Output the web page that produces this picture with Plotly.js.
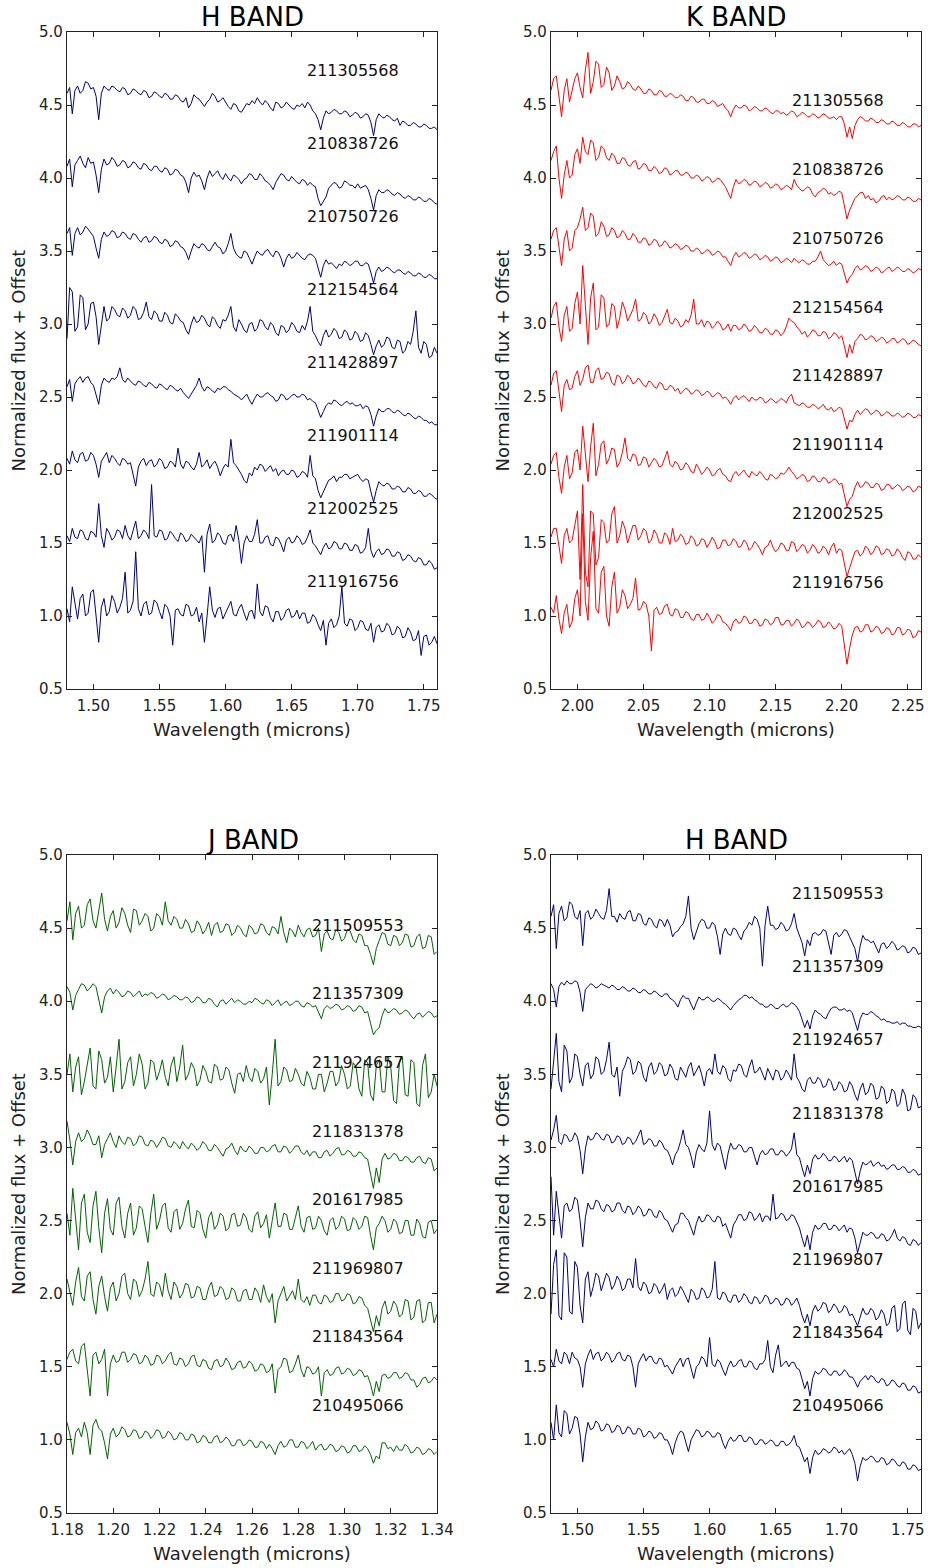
<!DOCTYPE html>
<html><head><meta charset="utf-8">
<script src="https://cdn.plot.ly/plotly-3.0.1.min.js"></script>
<style>html,body{margin:0;padding:0;background:#fff}#chart{width:928px;height:1568px}</style>
</head><body><div id="chart"></div>
<script>
// ---------- wavelength grids (microns) ----------
const hWave = [1.480,1.482,1.484,1.486,1.488,1.490,1.492,1.494,1.496,1.498,
1.500,1.502,1.504,1.506,1.508,1.510,1.512,1.514,1.516,1.518,
1.520,1.522,1.524,1.526,1.528,1.530,1.532,1.534,1.536,1.538,
1.540,1.542,1.544,1.546,1.548,1.550,1.552,1.554,1.556,1.558,
1.560,1.562,1.564,1.566,1.568,1.570,1.572,1.574,1.576,1.578,
1.580,1.582,1.584,1.586,1.588,1.590,1.592,1.594,1.596,1.598,
1.600,1.602,1.604,1.606,1.608,1.610,1.612,1.614,1.616,1.618,
1.620,1.622,1.624,1.626,1.628,1.630,1.632,1.634,1.636,1.638,
1.640,1.642,1.644,1.646,1.648,1.650,1.652,1.654,1.656,1.658,
1.660,1.662,1.664,1.666,1.668,1.670,1.672,1.674,1.676,1.678,
1.680,1.682,1.684,1.686,1.688,1.690,1.692,1.694,1.696,1.698,
1.700,1.702,1.704,1.706,1.708,1.710,1.712,1.714,1.716,1.718,
1.720,1.722,1.724,1.726,1.728,1.730,1.732,1.734,1.736,1.738,
1.740,1.742,1.744,1.746,1.748,1.750,1.752,1.754,1.756,1.758,
1.760];
const kWave = [1.980,1.982,1.984,1.986,1.988,1.990,1.992,1.994,1.996,1.998,
2.000,2.002,2.004,2.006,2.008,2.010,2.012,2.014,2.016,2.018,
2.020,2.022,2.024,2.026,2.028,2.030,2.032,2.034,2.036,2.038,
2.040,2.042,2.044,2.046,2.048,2.050,2.052,2.054,2.056,2.058,
2.060,2.062,2.064,2.066,2.068,2.070,2.072,2.074,2.076,2.078,
2.080,2.082,2.084,2.086,2.088,2.090,2.092,2.094,2.096,2.098,
2.100,2.102,2.104,2.106,2.108,2.110,2.112,2.114,2.116,2.118,
2.120,2.122,2.124,2.126,2.128,2.130,2.132,2.134,2.136,2.138,
2.140,2.142,2.144,2.146,2.148,2.150,2.152,2.154,2.156,2.158,
2.160,2.162,2.164,2.166,2.168,2.170,2.172,2.174,2.176,2.178,
2.180,2.182,2.184,2.186,2.188,2.190,2.192,2.194,2.196,2.198,
2.200,2.202,2.204,2.206,2.208,2.210,2.212,2.214,2.216,2.218,
2.220,2.222,2.224,2.226,2.228,2.230,2.232,2.234,2.236,2.238,
2.240,2.242,2.244,2.246,2.248,2.250,2.252,2.254,2.256,2.258,
2.260];
const jWave = [1.18000,1.18125,1.18250,1.18375,1.18500,1.18625,1.18750,1.18875,1.19000,1.19125,
1.19250,1.19375,1.19500,1.19625,1.19750,1.19875,1.20000,1.20125,1.20250,1.20375,
1.20500,1.20625,1.20750,1.20875,1.21000,1.21125,1.21250,1.21375,1.21500,1.21625,
1.21750,1.21875,1.22000,1.22125,1.22250,1.22375,1.22500,1.22625,1.22750,1.22875,
1.23000,1.23125,1.23250,1.23375,1.23500,1.23625,1.23750,1.23875,1.24000,1.24125,
1.24250,1.24375,1.24500,1.24625,1.24750,1.24875,1.25000,1.25125,1.25250,1.25375,
1.25500,1.25625,1.25750,1.25875,1.26000,1.26125,1.26250,1.26375,1.26500,1.26625,
1.26750,1.26875,1.27000,1.27125,1.27250,1.27375,1.27500,1.27625,1.27750,1.27875,
1.28000,1.28125,1.28250,1.28375,1.28500,1.28625,1.28750,1.28875,1.29000,1.29125,
1.29250,1.29375,1.29500,1.29625,1.29750,1.29875,1.30000,1.30125,1.30250,1.30375,
1.30500,1.30625,1.30750,1.30875,1.31000,1.31125,1.31250,1.31375,1.31500,1.31625,
1.31750,1.31875,1.32000,1.32125,1.32250,1.32375,1.32500,1.32625,1.32750,1.32875,
1.33000,1.33125,1.33250,1.33375,1.33500,1.33625,1.33750,1.33875,1.34000];

// ---------- star ids ----------
const hTopIds = ['211305568','210838726','210750726','212154564','211428897','211901114','212002525','211916756'];
const kTopIds = ['211305568','210838726','210750726','212154564','211428897','211901114','212002525','211916756'];
const jBotIds = ['211509553','211357309','211924657','211831378','201617985','211969807','211843564','210495066'];
const hBotIds = ['211509553','211357309','211924657','211831378','201617985','211969807','211843564','210495066'];

// ---------- top-left H band spectra ----------
const hTop1 = [4.58,4.62,4.44,4.60,4.63,4.58,4.60,4.66,4.65,4.61,
4.62,4.56,4.40,4.58,4.63,4.61,4.60,4.63,4.62,4.60,
4.59,4.62,4.61,4.57,4.58,4.61,4.60,4.58,4.57,4.60,
4.59,4.55,4.56,4.59,4.58,4.56,4.55,4.58,4.57,4.54,
4.54,4.57,4.56,4.53,4.52,4.55,4.48,4.51,4.57,4.55,
4.54,4.51,4.49,4.52,4.54,4.58,4.56,4.52,4.53,4.55,
4.52,4.49,4.47,4.51,4.50,4.46,4.45,4.48,4.51,4.50,
4.53,4.51,4.55,4.52,4.50,4.53,4.51,4.48,4.46,4.52,
4.51,4.48,4.49,4.52,4.50,4.48,4.47,4.50,4.49,4.51,
4.48,4.52,4.50,4.46,4.44,4.40,4.33,4.41,4.46,4.44,
4.45,4.47,4.46,4.44,4.44,4.46,4.45,4.42,4.43,4.45,
4.44,4.41,4.42,4.44,4.43,4.38,4.29,4.40,4.44,4.42,
4.41,4.43,4.42,4.40,4.39,4.41,4.36,4.39,4.38,4.36,
4.36,4.38,4.37,4.35,4.35,4.37,4.36,4.34,4.34,4.35,
4.33];
const hTop2 = [4.08,4.13,3.94,4.09,4.12,4.15,4.10,4.07,4.14,4.10,
4.11,4.02,3.90,4.06,4.13,4.09,4.10,4.14,4.12,4.08,
4.09,4.12,4.11,4.07,4.08,4.11,4.10,4.07,4.06,4.10,
4.09,4.06,4.05,4.08,4.08,4.05,4.04,4.07,4.06,4.02,
4.03,4.06,4.05,4.02,4.01,3.97,3.90,4.00,4.04,4.01,
4.02,3.98,3.92,4.00,4.05,4.01,4.03,4.05,4.01,3.99,
4.03,4.00,3.98,4.02,4.01,3.99,3.96,3.99,4.00,4.03,
4.02,3.99,3.99,4.03,4.01,3.98,3.97,3.95,3.92,3.97,
4.00,4.03,4.02,3.99,3.98,4.01,3.99,3.97,3.96,3.99,
3.98,3.95,3.97,3.95,3.94,3.86,3.81,3.84,3.87,3.93,
3.95,3.97,3.96,3.93,3.94,3.98,3.97,3.95,3.95,3.93,
3.96,3.93,3.94,3.95,3.92,3.86,3.78,3.88,3.92,3.90,
3.90,3.92,3.91,3.89,3.88,3.90,3.89,3.87,3.86,3.88,
3.87,3.85,3.85,3.87,3.86,3.84,3.84,3.86,3.85,3.83,
3.82];
const hTop3 = [3.62,3.66,3.47,3.62,3.66,3.61,3.63,3.67,3.65,3.62,
3.60,3.52,3.45,3.58,3.63,3.60,3.61,3.64,3.63,3.59,
3.60,3.63,3.62,3.59,3.58,3.62,3.61,3.58,3.56,3.59,
3.60,3.56,3.57,3.60,3.59,3.56,3.55,3.58,3.57,3.53,
3.54,3.57,3.56,3.53,3.52,3.49,3.44,3.50,3.55,3.53,
3.52,3.55,3.54,3.51,3.50,3.53,3.56,3.53,3.52,3.48,
3.50,3.55,3.62,3.52,3.48,3.46,3.45,3.50,3.49,3.45,
3.41,3.46,3.50,3.48,3.47,3.50,3.51,3.48,3.46,3.50,
3.49,3.45,3.39,3.45,3.48,3.45,3.46,3.49,3.47,3.45,
3.44,3.47,3.48,3.47,3.45,3.38,3.32,3.40,3.44,3.41,
3.42,3.40,3.38,3.41,3.40,3.43,3.42,3.40,3.41,3.43,
3.43,3.40,3.40,3.42,3.41,3.35,3.28,3.36,3.39,3.36,
3.37,3.39,3.38,3.36,3.35,3.37,3.37,3.35,3.34,3.36,
3.35,3.33,3.33,3.35,3.34,3.32,3.32,3.34,3.33,3.31,
3.31];
const hTop4 = [2.90,3.25,3.22,2.95,2.98,3.20,3.18,2.96,3.00,3.14,
3.15,3.05,2.86,3.00,3.12,3.02,3.04,3.12,3.10,3.06,
3.05,3.11,3.09,3.04,3.06,3.12,3.10,3.03,3.04,3.08,
3.15,3.05,3.03,3.09,3.07,3.02,3.02,3.08,3.06,3.01,
3.00,3.07,3.05,3.02,3.01,2.96,2.93,3.00,3.05,3.01,
3.02,3.06,3.04,3.00,2.98,3.05,3.03,2.99,2.97,3.03,
3.02,3.06,3.12,2.98,2.95,3.03,3.00,2.96,2.94,3.00,
3.01,2.95,2.97,3.03,3.02,2.98,2.96,3.01,2.99,2.94,
2.92,2.99,2.98,2.94,2.96,3.01,2.99,2.95,2.94,2.99,
2.96,3.02,3.12,2.95,2.92,2.88,2.85,2.92,2.96,2.91,
2.93,2.97,2.95,2.90,2.91,2.96,2.94,2.89,2.90,2.95,
2.93,2.88,2.89,2.94,2.92,2.86,2.79,2.85,2.89,2.84,
2.86,2.91,2.90,2.84,2.83,2.89,2.88,2.80,2.82,2.88,
2.86,2.95,3.09,2.84,2.80,2.88,2.86,2.77,2.78,2.84,
2.80];
const hTop5 = [2.57,2.62,2.47,2.59,2.62,2.64,2.60,2.63,2.64,2.60,
2.58,2.52,2.45,2.58,2.63,2.61,2.60,2.63,2.62,2.64,
2.70,2.62,2.60,2.63,2.61,2.59,2.58,2.61,2.60,2.58,
2.57,2.60,2.59,2.57,2.56,2.59,2.58,2.56,2.55,2.58,
2.57,2.55,2.54,2.56,2.53,2.51,2.49,2.52,2.55,2.58,
2.63,2.57,2.54,2.57,2.56,2.54,2.53,2.56,2.55,2.57,
2.57,2.55,2.54,2.52,2.51,2.50,2.48,2.50,2.52,2.48,
2.45,2.49,2.52,2.50,2.50,2.52,2.53,2.51,2.50,2.47,
2.48,2.52,2.51,2.48,2.49,2.51,2.52,2.50,2.50,2.52,
2.51,2.48,2.49,2.47,2.46,2.41,2.36,2.40,2.44,2.46,
2.45,2.48,2.47,2.45,2.44,2.46,2.47,2.45,2.46,2.44,
2.44,2.45,2.42,2.44,2.43,2.38,2.30,2.37,2.42,2.40,
2.40,2.42,2.42,2.40,2.39,2.41,2.40,2.38,2.37,2.39,
2.38,2.36,2.35,2.37,2.36,2.34,2.34,2.32,2.33,2.31,
2.31];
const hTop6 = [2.08,2.04,2.13,2.07,2.05,2.11,2.12,2.06,2.07,2.12,
2.10,2.04,1.95,2.06,2.09,2.12,2.05,2.10,2.08,2.05,
2.03,2.08,2.07,2.04,2.05,1.98,1.89,2.02,2.06,2.08,
2.03,2.06,2.07,2.02,2.04,2.08,2.06,2.01,2.02,2.06,
2.05,2.02,2.15,2.04,2.01,2.06,2.05,2.02,2.00,2.04,
2.12,2.02,2.04,2.07,2.01,2.04,2.06,2.02,1.96,2.01,
2.04,2.02,2.21,2.05,2.03,2.00,1.97,1.93,1.91,1.98,
1.96,2.02,2.00,2.04,2.03,1.99,2.01,2.03,1.99,2.01,
1.96,1.99,2.00,1.97,1.97,2.00,1.99,1.95,1.96,1.99,
1.98,1.95,2.10,1.96,1.94,1.86,1.81,1.85,1.88,1.93,
1.94,1.96,1.92,1.95,1.95,1.97,1.97,1.94,1.95,1.96,
1.97,1.94,1.92,1.94,1.93,1.85,1.78,1.86,1.92,1.90,
1.89,1.91,1.90,1.87,1.87,1.89,1.88,1.85,1.85,1.88,
1.87,1.84,1.84,1.86,1.85,1.82,1.82,1.84,1.83,1.81,
1.80];
const hTop7 = [1.55,1.51,1.60,1.54,1.53,1.59,1.58,1.53,1.52,1.58,
1.57,1.54,1.77,1.55,1.47,1.60,1.57,1.52,1.54,1.59,
1.58,1.53,1.62,1.55,1.52,1.58,1.65,1.53,1.55,1.59,
1.57,1.53,1.90,1.55,1.54,1.59,1.58,1.52,1.53,1.58,
1.56,1.53,1.51,1.57,1.55,1.51,1.52,1.56,1.54,1.52,
1.50,1.55,1.30,1.56,1.63,1.50,1.52,1.57,1.55,1.50,
1.49,1.55,1.56,1.51,1.62,1.52,1.36,1.50,1.55,1.51,
1.51,1.56,1.66,1.50,1.50,1.54,1.55,1.49,1.48,1.54,
1.53,1.49,1.44,1.52,1.54,1.50,1.51,1.55,1.53,1.49,
1.50,1.54,1.59,1.50,1.48,1.45,1.42,1.47,1.50,1.46,
1.47,1.51,1.50,1.46,1.46,1.50,1.49,1.45,1.45,1.49,
1.48,1.43,1.44,1.47,1.60,1.45,1.40,1.44,1.46,1.42,
1.43,1.46,1.45,1.41,1.41,1.44,1.43,1.38,1.39,1.42,
1.41,1.38,1.37,1.40,1.39,1.35,1.35,1.38,1.36,1.32,
1.33];
const hTop8 = [1.05,0.96,1.20,1.08,0.98,1.12,1.15,1.00,1.02,1.16,
1.18,1.00,0.82,1.06,1.12,1.00,1.03,1.14,1.10,1.02,
1.06,1.12,1.30,1.02,1.04,1.10,1.44,1.05,1.00,1.08,
1.10,1.01,1.02,1.11,1.09,1.03,0.98,1.08,1.06,1.00,
0.80,1.04,1.05,1.01,1.00,1.08,1.07,1.00,1.01,1.06,
0.96,1.02,0.82,1.00,1.20,1.04,0.99,1.05,1.06,0.98,
1.02,1.07,1.10,1.01,1.00,1.05,1.08,1.02,0.97,1.03,
1.04,0.98,1.22,1.03,1.00,1.07,1.06,0.99,0.96,1.03,
1.03,0.97,0.99,1.04,1.05,0.99,1.00,1.04,0.98,1.02,
1.02,0.95,0.96,1.01,0.99,0.94,0.90,0.97,0.80,0.95,
0.98,0.92,0.94,1.00,1.20,0.95,0.93,0.98,0.97,0.90,
0.92,0.97,0.96,0.91,0.90,0.95,0.82,0.92,0.94,0.89,
0.90,0.95,0.93,0.87,0.88,0.93,0.91,0.85,0.86,0.92,
0.89,0.83,0.84,0.90,0.73,0.86,0.87,0.80,0.82,0.86,
0.81];

// ---------- top-right K band spectra ----------
const kTop1 = [4.60,4.68,4.70,4.55,4.42,4.60,4.68,4.52,4.60,4.68,
4.72,4.62,4.55,4.74,4.86,4.58,4.66,4.80,4.78,4.62,
4.64,4.76,4.72,4.60,4.63,4.70,4.66,4.61,4.62,4.66,
4.64,4.61,4.60,4.63,4.61,4.58,4.58,4.61,4.60,4.57,
4.57,4.60,4.59,4.56,4.56,4.58,4.57,4.55,4.55,4.57,
4.56,4.53,4.53,4.56,4.55,4.52,4.52,4.54,4.54,4.51,
4.51,4.53,4.52,4.49,4.50,4.51,4.48,4.46,4.42,4.47,
4.50,4.48,4.48,4.50,4.49,4.46,4.47,4.49,4.48,4.46,
4.46,4.48,4.47,4.45,4.44,4.46,4.46,4.44,4.45,4.43,
4.44,4.46,4.45,4.42,4.43,4.45,4.44,4.42,4.42,4.44,
4.43,4.41,4.42,4.44,4.43,4.41,4.41,4.42,4.40,4.42,
4.42,4.37,4.28,4.35,4.27,4.36,4.40,4.42,4.41,4.39,
4.39,4.41,4.40,4.38,4.38,4.40,4.39,4.37,4.37,4.39,
4.38,4.36,4.36,4.38,4.37,4.35,4.35,4.37,4.37,4.35,
4.36];
const kTop2 = [4.12,4.18,4.22,4.00,3.86,4.02,4.12,4.00,4.02,4.16,
4.20,4.10,4.28,4.18,4.16,4.26,4.24,4.12,4.14,4.22,
4.20,4.14,4.12,4.17,4.15,4.10,4.10,4.14,4.13,4.09,
4.08,4.11,4.12,4.06,4.07,4.10,4.09,4.05,4.05,4.08,
4.06,4.03,4.04,4.07,4.06,4.02,4.03,4.05,4.05,4.02,
4.02,4.04,4.03,4.00,4.00,4.02,4.01,3.98,3.99,4.01,
4.00,3.97,3.98,4.00,3.99,3.96,3.94,3.90,3.86,3.94,
3.99,3.96,3.97,3.99,3.98,3.95,3.96,3.98,3.97,3.94,
3.95,3.97,3.96,3.93,3.94,3.96,3.95,3.92,3.93,3.95,
3.94,3.92,3.99,3.95,3.93,3.91,3.92,3.94,3.93,3.89,
3.87,3.90,3.91,3.93,3.92,3.89,3.90,3.88,3.89,3.91,
3.90,3.82,3.72,3.78,3.82,3.86,3.88,3.90,3.90,3.86,
3.88,3.85,3.86,3.83,3.84,3.87,3.88,3.85,3.87,3.85,
3.86,3.88,3.87,3.85,3.85,3.87,3.86,3.84,3.84,3.86,
3.85];
const kTop3 = [3.58,3.64,3.66,3.52,3.40,3.58,3.64,3.50,3.52,3.64,
3.66,3.72,3.80,3.64,3.66,3.76,3.74,3.60,3.62,3.70,
3.67,3.60,3.61,3.66,3.64,3.59,3.60,3.64,3.62,3.58,
3.58,3.62,3.60,3.56,3.56,3.59,3.58,3.54,3.55,3.58,
3.57,3.53,3.54,3.57,3.55,3.52,3.53,3.55,3.54,3.51,
3.52,3.54,3.53,3.50,3.50,3.52,3.51,3.48,3.49,3.51,
3.50,3.47,3.48,3.50,3.49,3.46,3.46,3.43,3.40,3.46,
3.49,3.46,3.47,3.49,3.48,3.45,3.46,3.48,3.47,3.44,
3.45,3.47,3.46,3.43,3.44,3.46,3.45,3.42,3.43,3.45,
3.44,3.42,3.45,3.43,3.42,3.44,3.43,3.41,3.41,3.43,
3.43,3.46,3.50,3.44,3.42,3.40,3.41,3.43,3.40,3.42,
3.41,3.34,3.28,3.32,3.34,3.38,3.40,3.37,3.38,3.40,
3.39,3.36,3.37,3.39,3.38,3.35,3.36,3.38,3.39,3.36,
3.37,3.39,3.38,3.36,3.36,3.38,3.37,3.35,3.36,3.38,
3.37];
const kTop4 = [3.04,3.12,3.15,2.98,2.88,3.06,3.12,2.95,2.97,3.14,
3.22,3.00,3.40,3.10,2.86,3.18,3.28,2.96,2.98,3.20,
3.18,2.98,3.00,3.14,3.12,2.97,3.04,3.15,3.10,3.02,
3.06,3.10,3.17,3.02,3.03,3.08,3.06,3.00,3.02,3.07,
3.04,2.99,3.01,3.06,3.10,3.01,3.00,3.04,3.02,2.98,
2.99,3.03,3.01,3.06,3.17,3.00,3.00,3.03,2.98,3.02,
3.01,2.97,2.99,3.02,3.00,2.96,2.97,3.00,2.95,2.99,
2.99,2.96,2.97,3.00,2.98,2.95,2.96,2.99,2.97,2.94,
2.94,2.97,2.96,2.93,2.93,2.96,2.95,2.92,2.94,2.98,
3.04,3.02,3.01,2.98,2.96,2.93,2.95,2.91,2.93,2.96,
2.95,2.92,2.92,2.95,2.94,2.90,2.91,2.94,2.93,2.90,
2.92,2.85,2.77,2.86,2.80,2.88,2.90,2.93,2.92,2.89,
2.90,2.92,2.91,2.88,2.89,2.91,2.90,2.87,2.88,2.90,
2.90,2.87,2.88,2.90,2.89,2.86,2.87,2.89,2.88,2.86,
2.85];
const kTop5 = [2.58,2.66,2.68,2.52,2.40,2.58,2.62,2.55,2.56,2.64,
2.68,2.58,2.62,2.70,2.72,2.60,2.60,2.68,2.70,2.62,
2.63,2.67,2.66,2.60,2.58,2.65,2.64,2.59,2.61,2.65,
2.63,2.59,2.60,2.63,2.61,2.58,2.57,2.61,2.60,2.57,
2.56,2.60,2.59,2.55,2.55,2.58,2.57,2.54,2.56,2.52,
2.54,2.56,2.55,2.52,2.53,2.55,2.54,2.51,2.52,2.54,
2.53,2.50,2.51,2.53,2.52,2.49,2.50,2.48,2.45,2.49,
2.51,2.48,2.50,2.51,2.49,2.47,2.50,2.48,2.48,2.50,
2.49,2.46,2.47,2.49,2.48,2.46,2.47,2.49,2.48,2.46,
2.50,2.52,2.46,2.45,2.44,2.46,2.45,2.43,2.43,2.45,
2.44,2.42,2.43,2.45,2.42,2.41,2.43,2.40,2.41,2.43,
2.42,2.35,2.28,2.34,2.33,2.38,2.41,2.38,2.40,2.42,
2.41,2.38,2.39,2.41,2.40,2.37,2.38,2.40,2.39,2.37,
2.37,2.39,2.38,2.36,2.37,2.39,2.38,2.36,2.36,2.38,
2.37];
const kTop6 = [2.04,2.10,2.12,1.95,1.84,2.02,2.10,1.94,1.98,2.12,
2.14,2.00,2.30,2.08,1.92,2.16,2.32,1.96,2.04,2.18,
2.20,2.04,2.08,2.15,2.14,2.02,2.05,2.12,2.22,2.08,
2.06,2.11,2.10,2.03,2.04,2.09,2.08,2.02,2.05,2.08,
2.06,2.02,2.03,2.08,2.13,2.04,2.02,2.06,2.04,2.00,
2.01,2.05,2.03,1.99,1.98,2.04,2.01,1.97,1.99,2.02,
2.00,1.96,1.97,2.00,2.01,1.97,1.96,1.93,1.92,1.97,
1.99,1.96,1.98,2.00,1.97,1.95,1.99,1.97,1.96,1.99,
1.97,1.94,1.93,1.97,1.96,1.94,1.95,1.98,1.97,1.99,
2.02,1.99,1.97,1.94,1.95,1.97,1.96,1.92,1.93,1.96,
1.95,1.92,1.92,1.95,1.94,1.91,1.92,1.94,1.93,1.90,
1.91,1.83,1.75,1.80,1.82,1.88,1.92,1.88,1.89,1.92,
1.91,1.88,1.88,1.91,1.90,1.86,1.87,1.90,1.90,1.87,
1.88,1.90,1.89,1.86,1.87,1.89,1.88,1.85,1.86,1.89,
1.88];
const kTop7 = [1.54,1.60,1.60,1.48,1.36,1.55,1.60,1.50,1.52,1.62,
1.72,1.25,1.90,1.30,1.20,1.72,1.70,1.35,1.40,1.66,
1.64,1.50,1.52,1.70,1.75,1.50,1.55,1.65,1.60,1.50,
1.56,1.62,1.62,1.52,1.55,1.60,1.58,1.50,1.52,1.59,
1.56,1.50,1.50,1.57,1.55,1.49,1.60,1.51,1.52,1.56,
1.54,1.49,1.50,1.55,1.53,1.48,1.49,1.53,1.52,1.47,
1.50,1.54,1.51,1.46,1.47,1.52,1.52,1.48,1.49,1.53,
1.51,1.47,1.48,1.52,1.50,1.45,1.47,1.51,1.49,1.46,
1.42,1.47,1.48,1.52,1.47,1.44,1.46,1.50,1.49,1.45,
1.45,1.51,1.50,1.44,1.46,1.49,1.48,1.43,1.45,1.49,
1.47,1.43,1.44,1.48,1.46,1.42,1.47,1.50,1.43,1.46,
1.45,1.35,1.27,1.33,1.38,1.44,1.45,1.41,1.43,1.48,
1.46,1.42,1.44,1.48,1.47,1.42,1.43,1.46,1.45,1.41,
1.42,1.46,1.44,1.40,1.38,1.44,1.43,1.39,1.39,1.42,
1.40];
const kTop8 = [1.06,1.02,1.14,0.98,0.88,1.02,1.08,0.92,0.96,1.12,
1.18,1.00,1.70,1.10,0.97,1.40,1.58,1.05,1.02,1.30,
1.34,1.00,0.93,1.20,1.30,1.02,1.06,1.18,1.14,1.05,
1.08,1.12,1.26,1.04,1.05,1.10,1.08,1.00,0.76,1.04,
1.06,1.01,1.02,1.07,1.08,1.01,1.00,1.05,1.04,0.99,
0.99,1.03,1.02,0.98,0.97,1.01,1.01,0.97,0.98,1.02,
0.99,0.95,0.97,1.01,1.00,0.96,0.95,0.93,0.90,0.96,
0.98,0.95,0.96,1.00,0.99,0.95,0.95,0.98,0.97,0.93,
0.94,0.98,0.97,0.94,0.95,0.99,0.99,0.94,0.94,0.97,
0.97,0.93,0.95,0.98,0.96,0.92,0.93,0.96,0.95,0.92,
0.94,0.97,0.96,0.92,0.93,0.96,0.94,0.91,0.92,0.95,
0.93,0.80,0.67,0.78,0.87,0.92,0.93,0.89,0.90,0.94,
0.94,0.89,0.90,0.93,0.92,0.88,0.89,0.92,0.91,0.87,
0.88,0.92,0.92,0.87,0.88,0.91,0.90,0.85,0.86,0.90,
0.89];

// ---------- bottom-left J band spectra ----------
const jBot1 = [4.55,4.68,4.42,4.60,4.65,4.50,4.52,4.66,4.70,4.55,
4.50,4.62,4.74,4.56,4.48,4.58,4.62,4.50,4.54,4.64,
4.60,4.52,4.47,4.63,4.62,4.52,4.55,4.60,4.58,4.48,
4.50,4.60,4.58,4.52,4.68,4.55,4.52,4.58,4.56,4.50,
4.50,4.56,4.53,4.47,4.48,4.55,4.52,4.46,4.49,4.54,
4.45,4.52,4.54,4.47,4.48,4.53,4.52,4.45,4.47,4.52,
4.50,4.46,4.44,4.52,4.50,4.46,4.47,4.53,4.52,4.47,
4.45,4.51,4.50,4.46,4.58,4.47,4.40,4.50,4.48,4.44,
4.52,4.47,4.44,4.49,4.50,4.44,4.45,4.50,4.34,4.46,
4.48,4.43,4.42,4.49,4.47,4.41,4.43,4.49,4.48,4.42,
4.40,4.46,4.45,4.38,4.38,4.32,4.25,4.36,4.42,4.47,
4.46,4.39,4.38,4.45,4.44,4.38,4.40,4.46,4.45,4.37,
4.38,4.44,4.46,4.36,4.37,4.45,4.44,4.32,4.34];
const jBot2 = [4.10,4.06,3.94,4.04,4.08,4.12,4.11,4.07,4.09,4.12,
4.10,4.02,3.92,4.03,4.07,4.09,4.05,4.08,4.06,4.03,
4.04,4.07,4.06,4.03,4.05,4.07,4.03,4.05,4.04,4.06,
4.05,4.02,4.03,4.05,4.04,4.01,4.02,4.04,4.03,4.01,
4.01,4.03,4.02,3.99,4.00,4.03,4.02,3.99,3.99,4.02,
4.01,3.98,3.96,4.00,4.01,3.98,4.00,4.02,3.99,4.01,
4.00,3.98,3.98,4.00,3.99,4.02,4.01,3.99,3.98,4.01,
4.00,3.97,3.99,4.01,3.97,3.99,4.00,3.97,3.98,4.00,
4.00,3.97,3.96,3.99,3.98,3.96,3.97,3.93,3.88,3.95,
3.97,3.95,3.96,3.98,3.97,3.94,3.95,3.97,3.96,3.93,
3.94,3.97,3.96,3.92,3.93,3.85,3.77,3.80,3.82,3.90,
3.95,3.92,3.93,3.95,3.94,3.91,3.92,3.94,3.93,3.90,
3.88,3.91,3.92,3.89,3.91,3.93,3.92,3.89,3.90];
const jBot3 = [3.50,3.64,3.38,3.55,3.62,3.36,3.45,3.58,3.68,3.42,
3.40,3.66,3.60,3.44,3.48,3.62,3.38,3.55,3.74,3.40,
3.45,3.58,3.62,3.42,3.50,3.64,3.57,3.40,3.44,3.60,
3.58,3.46,3.52,3.60,3.48,3.42,3.56,3.62,3.45,3.55,
3.70,3.46,3.50,3.58,3.54,3.42,3.46,3.56,3.52,3.45,
3.44,3.57,3.55,3.46,3.47,3.55,3.53,3.44,3.37,3.50,
3.51,3.45,3.56,3.48,3.45,3.54,3.52,3.44,3.47,3.55,
3.29,3.50,3.74,3.42,3.45,3.55,3.53,3.45,3.46,3.54,
3.50,3.44,3.42,3.52,3.48,3.40,3.40,3.50,3.50,3.38,
3.44,3.52,3.52,3.42,3.45,3.56,3.50,3.40,3.42,3.58,
3.55,3.40,3.35,3.60,3.58,3.36,3.32,3.56,3.60,3.38,
3.38,3.62,3.55,3.32,3.30,3.58,3.62,3.36,3.35,3.60,
3.58,3.30,3.28,3.56,3.64,3.34,3.38,3.50,3.42];
const jBot4 = [3.18,3.05,2.88,3.04,3.10,3.04,3.06,3.12,3.08,3.02,
3.02,3.08,2.93,3.02,3.06,3.10,3.04,3.00,3.08,3.04,
3.02,3.07,3.06,3.01,3.03,3.08,3.07,3.02,3.01,3.05,
3.04,3.00,3.03,3.07,3.06,3.01,3.00,3.04,3.02,2.99,
3.04,3.01,2.99,3.03,3.01,2.98,3.00,3.04,3.02,2.98,
2.98,3.02,3.00,2.97,2.94,2.99,3.00,3.03,2.98,2.95,
3.01,2.98,2.97,3.01,2.99,2.96,2.96,3.00,3.00,2.97,
2.98,3.01,3.02,2.97,2.97,3.01,3.00,2.96,2.98,3.01,
3.01,2.97,2.95,2.98,2.94,2.97,2.97,2.93,2.93,2.97,
2.98,2.94,2.96,2.99,3.00,2.95,2.95,2.98,2.97,2.94,
2.94,2.97,2.96,2.93,2.92,2.82,2.72,2.86,2.76,2.92,
2.96,2.92,2.93,2.96,2.95,2.91,2.91,2.94,2.93,2.90,
2.90,2.93,2.94,2.90,2.89,2.93,2.92,2.84,2.86];
const jBot5 = [2.55,2.40,2.72,2.50,2.30,2.62,2.68,2.42,2.35,2.60,
2.70,2.45,2.28,2.55,2.65,2.44,2.40,2.62,2.66,2.46,
2.38,2.55,2.62,2.40,2.45,2.60,2.58,2.46,2.35,2.55,
2.68,2.44,2.50,2.60,2.62,2.45,2.42,2.56,2.58,2.44,
2.48,2.58,2.64,2.46,2.45,2.57,2.55,2.44,2.38,2.52,
2.56,2.44,2.47,2.55,2.53,2.43,2.45,2.54,2.55,2.46,
2.47,2.55,2.52,2.44,2.42,2.53,2.56,2.45,2.48,2.54,
2.38,2.50,2.62,2.46,2.46,2.55,2.54,2.44,2.44,2.52,
2.60,2.46,2.42,2.52,2.53,2.44,2.45,2.53,2.50,2.43,
2.40,2.50,2.52,2.44,2.46,2.53,2.51,2.43,2.44,2.52,
2.50,2.44,2.46,2.53,2.52,2.40,2.30,2.45,2.48,2.53,
2.50,2.42,2.44,2.51,2.49,2.41,2.42,2.50,2.50,2.40,
2.40,2.51,2.48,2.39,2.38,2.49,2.50,2.41,2.44];
const jBot6 = [2.10,2.02,1.92,2.08,2.18,1.98,1.95,2.12,2.15,1.96,
1.86,2.05,2.12,1.98,1.88,2.04,2.08,1.95,2.00,2.12,
2.14,2.00,1.96,2.10,2.08,1.98,2.02,2.10,2.22,2.00,
1.98,2.08,2.06,1.98,2.14,2.02,1.96,2.08,2.05,1.97,
2.00,2.07,2.06,1.97,1.98,2.05,2.04,1.96,1.96,2.04,
2.08,1.98,1.99,2.05,2.03,1.96,1.97,2.04,2.02,1.95,
1.95,2.02,2.03,1.96,1.96,2.04,2.01,1.94,2.06,1.98,
1.94,2.00,1.80,1.95,2.00,2.05,1.95,1.99,2.02,1.96,
2.10,1.96,1.94,1.98,1.92,1.99,1.99,1.94,1.93,1.99,
1.98,1.94,1.95,2.00,2.00,1.95,1.96,2.00,1.99,1.93,
1.94,1.98,1.97,1.92,1.90,1.82,1.74,1.85,1.78,1.90,
1.95,1.86,1.88,1.95,1.92,1.84,1.86,1.96,1.95,1.82,
1.84,1.95,1.96,1.80,1.82,1.94,1.94,1.80,1.86];
const jBot7 = [1.55,1.60,1.62,1.54,1.52,1.64,1.66,1.50,1.30,1.58,
1.60,1.52,1.55,1.62,1.30,1.52,1.58,1.53,1.54,1.60,
1.60,1.53,1.55,1.59,1.58,1.52,1.53,1.58,1.56,1.51,
1.52,1.58,1.57,1.52,1.54,1.58,1.60,1.52,1.51,1.56,
1.55,1.50,1.52,1.57,1.58,1.51,1.50,1.55,1.54,1.49,
1.48,1.54,1.55,1.50,1.51,1.56,1.53,1.48,1.49,1.53,
1.54,1.49,1.50,1.54,1.52,1.47,1.48,1.52,1.51,1.46,
1.47,1.52,1.32,1.48,1.50,1.56,1.55,1.46,1.47,1.52,
1.58,1.48,1.43,1.50,1.49,1.45,1.46,1.50,1.30,1.46,
1.48,1.44,1.45,1.49,1.50,1.45,1.46,1.49,1.48,1.44,
1.45,1.48,1.47,1.43,1.44,1.38,1.30,1.40,1.33,1.44,
1.45,1.42,1.43,1.46,1.46,1.42,1.43,1.46,1.45,1.41,
1.41,1.36,1.38,1.42,1.43,1.39,1.40,1.43,1.41];
const jBot8 = [1.12,1.04,0.90,1.05,1.08,1.02,1.12,1.05,0.90,1.10,
1.14,1.08,1.06,0.98,0.87,1.04,1.08,1.02,1.04,1.09,
1.07,1.02,1.03,1.07,1.06,1.01,1.02,1.06,1.05,1.01,
1.03,1.07,1.06,1.01,1.02,1.06,1.04,1.00,1.01,1.05,
1.04,1.00,1.00,1.04,1.03,0.98,0.99,1.03,1.02,0.98,
0.98,1.02,1.03,0.98,0.99,1.02,1.00,0.96,0.96,1.00,
1.00,0.96,0.97,1.00,0.99,0.95,0.95,0.99,0.98,0.94,
0.97,0.94,0.90,0.96,0.99,0.95,0.96,1.00,1.00,0.95,
0.95,0.99,0.98,0.94,0.96,0.99,0.93,0.96,0.97,0.93,
0.94,0.97,0.96,0.92,0.93,0.96,0.95,0.91,0.92,0.96,
0.96,0.92,0.93,0.96,0.94,0.90,0.84,0.89,0.87,0.98,
0.98,0.94,0.95,0.92,0.96,0.93,0.93,0.97,0.95,0.91,
0.92,0.95,0.94,0.90,0.91,0.94,0.93,0.90,0.92];

// ---------- bottom-right H band spectra ----------
const hBot1 = [4.58,4.66,4.36,4.60,4.65,4.55,4.57,4.68,4.66,4.58,
4.56,4.62,4.38,4.60,4.62,4.56,4.58,4.63,4.60,4.57,
4.56,4.62,4.77,4.58,4.58,4.54,4.60,4.57,4.56,4.61,
4.62,4.55,4.55,4.60,4.59,4.53,4.52,4.57,4.56,4.52,
4.50,4.56,4.55,4.51,4.56,4.52,4.44,4.47,4.48,4.51,
4.53,4.58,4.72,4.50,4.42,4.48,4.53,4.56,4.55,4.50,
4.50,4.54,4.52,4.44,4.32,4.46,4.50,4.46,4.45,4.50,
4.49,4.45,4.42,4.48,4.50,4.54,4.52,4.58,4.56,4.50,
4.24,4.52,4.65,4.52,4.52,4.49,4.50,4.54,4.52,4.48,
4.49,4.53,4.60,4.50,4.45,4.40,4.31,4.42,4.38,4.46,
4.47,4.45,4.46,4.49,4.48,4.40,4.32,4.45,4.47,4.44,
4.46,4.49,4.48,4.44,4.40,4.36,4.27,4.38,4.45,4.42,
4.42,4.40,4.41,4.37,4.33,4.39,4.40,4.36,4.38,4.41,
4.39,4.35,4.36,4.38,4.37,4.33,4.34,4.37,4.36,4.32,
4.33];
const hBot2 = [4.12,4.08,3.96,4.10,4.13,4.11,4.14,4.12,4.12,4.14,
4.13,4.06,3.93,4.08,4.10,4.12,4.11,4.09,4.10,4.12,
4.11,4.10,4.09,4.11,4.10,4.08,4.08,4.10,4.09,4.07,
4.07,4.09,4.08,4.06,4.06,4.08,4.07,4.05,4.05,4.07,
4.06,4.04,4.03,4.05,4.05,4.02,4.01,3.99,3.96,4.01,
4.04,4.02,4.02,3.98,3.94,3.99,4.03,4.01,4.01,4.03,
4.02,4.00,4.00,4.02,4.01,3.99,3.98,3.96,3.94,3.97,
3.99,4.01,4.02,4.04,4.04,4.02,4.03,4.01,4.00,3.98,
3.98,3.96,3.96,3.98,3.97,3.95,3.95,3.97,3.98,3.96,
3.97,3.99,3.98,3.96,3.93,3.88,3.82,3.87,3.81,3.90,
3.94,3.92,3.91,3.89,3.88,3.92,3.95,3.96,3.96,3.94,
3.94,3.95,3.93,3.94,3.92,3.86,3.80,3.88,3.92,3.91,
3.91,3.93,3.92,3.90,3.89,3.87,3.88,3.86,3.86,3.85,
3.85,3.86,3.84,3.85,3.85,3.83,3.83,3.82,3.82,3.83,
3.82];
const hBot3 = [3.40,3.60,3.78,3.45,3.38,3.70,3.66,3.44,3.48,3.64,
3.62,3.50,3.42,3.56,3.58,3.47,3.50,3.62,3.60,3.50,
3.52,3.60,3.72,3.50,3.48,3.55,3.35,3.52,3.56,3.62,
3.60,3.50,3.52,3.59,3.57,3.48,3.45,3.55,3.58,3.50,
3.52,3.58,3.56,3.49,3.50,3.57,3.54,3.47,3.46,3.55,
3.52,3.48,3.55,3.58,3.49,3.53,3.56,3.50,3.42,3.52,
3.54,3.50,3.64,3.52,3.50,3.56,3.54,3.47,3.45,3.53,
3.52,3.57,3.56,3.50,3.48,3.55,3.60,3.51,3.52,3.55,
3.50,3.46,3.54,3.50,3.46,3.53,3.52,3.46,3.48,3.53,
3.50,3.46,3.64,3.48,3.45,3.40,3.38,3.46,3.48,3.44,
3.44,3.48,3.46,3.41,3.42,3.47,3.45,3.39,3.40,3.45,
3.43,3.38,3.39,3.45,3.42,3.36,3.32,3.40,3.44,3.36,
3.38,3.44,3.42,3.33,3.34,3.42,3.40,3.30,3.32,3.40,
3.38,3.28,3.30,3.40,3.36,3.25,3.26,3.36,3.34,3.27,
3.28];
const hBot4 = [3.05,3.12,3.22,3.04,3.02,3.09,3.08,3.04,3.05,3.10,
3.07,2.98,2.82,2.99,3.08,3.05,3.06,3.10,3.09,3.06,
3.05,3.09,3.08,3.03,3.04,3.08,3.07,3.02,3.03,3.07,
3.06,3.02,3.04,3.08,3.12,3.02,3.03,3.06,3.05,3.01,
3.01,3.05,3.03,2.99,2.98,2.94,2.88,2.95,2.98,3.04,
3.12,3.02,3.00,2.94,2.86,2.97,3.02,2.99,2.97,3.03,
3.25,3.02,2.98,3.03,3.01,2.93,2.85,2.96,3.03,2.99,
2.99,3.02,3.01,2.97,2.97,3.00,3.00,2.94,2.88,2.95,
2.98,2.95,2.96,2.99,2.99,2.95,2.95,2.98,2.97,2.94,
2.96,2.99,3.10,2.95,2.93,2.86,2.80,2.88,2.82,2.92,
2.95,2.92,2.93,2.96,2.94,2.91,2.91,2.94,2.93,2.90,
2.92,2.94,2.90,2.93,2.91,2.84,2.75,2.84,2.90,2.88,
2.89,2.91,2.87,2.89,2.90,2.87,2.88,2.85,2.86,2.88,
2.88,2.85,2.85,2.87,2.86,2.83,2.83,2.85,2.84,2.81,
2.82];
const hBot5 = [2.80,2.40,2.70,2.55,2.38,2.60,2.62,2.56,2.58,2.66,
2.64,2.50,2.32,2.52,2.62,2.58,2.58,2.64,2.63,2.58,
2.56,2.61,2.60,2.56,2.57,2.62,2.62,2.57,2.55,2.60,
2.59,2.54,2.56,2.60,2.58,2.53,2.54,2.58,2.57,2.53,
2.52,2.57,2.55,2.51,2.50,2.46,2.42,2.47,2.48,2.55,
2.55,2.52,2.50,2.45,2.40,2.48,2.53,2.49,2.50,2.54,
2.53,2.50,2.49,2.53,2.52,2.46,2.48,2.43,2.38,2.47,
2.50,2.54,2.54,2.50,2.51,2.56,2.55,2.50,2.52,2.55,
2.49,2.53,2.53,2.50,2.68,2.51,2.52,2.55,2.54,2.50,
2.51,2.54,2.53,2.49,2.45,2.38,2.32,2.40,2.30,2.42,
2.47,2.44,2.45,2.48,2.48,2.44,2.44,2.47,2.46,2.43,
2.45,2.47,2.42,2.45,2.44,2.38,2.28,2.36,2.42,2.40,
2.40,2.42,2.41,2.38,2.38,2.41,2.40,2.36,2.37,2.40,
2.44,2.38,2.36,2.39,2.38,2.34,2.33,2.37,2.36,2.33,
2.35];
const hBot6 = [1.86,2.20,2.30,1.85,1.82,2.28,2.25,1.88,1.86,2.22,
2.18,1.92,1.80,2.10,2.15,1.98,2.05,2.14,2.12,2.02,
2.08,2.14,2.11,2.03,2.06,2.12,2.09,2.02,2.04,2.10,
2.10,2.04,2.24,2.05,2.02,2.08,2.06,2.00,2.01,2.07,
2.05,2.00,2.03,2.07,1.96,2.02,2.04,1.98,2.00,2.05,
2.02,1.98,1.94,2.03,2.01,1.96,1.97,2.04,2.02,1.97,
1.98,2.03,2.22,1.97,1.96,2.01,2.00,1.95,1.94,1.99,
1.99,1.94,1.96,2.00,1.98,1.94,1.93,1.98,1.97,1.93,
1.95,1.99,1.98,1.93,1.94,1.97,1.96,1.92,1.93,1.97,
1.96,1.92,1.94,1.97,1.92,1.85,1.80,1.86,1.78,1.88,
1.92,1.88,1.90,1.94,1.93,1.87,1.89,1.93,1.91,1.87,
1.88,1.92,1.90,1.85,1.86,1.82,1.78,1.84,1.90,1.86,
1.86,1.90,1.88,1.82,1.84,1.89,1.86,1.78,1.80,1.90,
1.92,1.74,1.76,1.93,1.95,1.75,1.72,1.90,1.88,1.76,
1.80];
const hBot7 = [1.55,1.50,1.62,1.54,1.52,1.60,1.58,1.52,1.60,1.56,
1.55,1.50,1.36,1.52,1.58,1.62,1.55,1.59,1.60,1.54,
1.56,1.60,1.58,1.53,1.55,1.59,1.60,1.55,1.54,1.58,
1.57,1.50,1.36,1.52,1.56,1.59,1.54,1.57,1.57,1.53,
1.52,1.56,1.55,1.50,1.51,1.48,1.45,1.50,1.53,1.56,
1.50,1.55,1.56,1.48,1.42,1.50,1.52,1.57,1.55,1.50,
1.70,1.52,1.50,1.55,1.53,1.48,1.44,1.50,1.54,1.50,
1.51,1.54,1.55,1.50,1.50,1.54,1.53,1.49,1.48,1.52,
1.52,1.55,1.68,1.50,1.46,1.58,1.65,1.50,1.52,1.54,
1.50,1.53,1.53,1.49,1.48,1.42,1.35,1.40,1.30,1.42,
1.47,1.45,1.46,1.49,1.48,1.45,1.44,1.47,1.47,1.44,
1.45,1.48,1.46,1.43,1.43,1.40,1.36,1.40,1.42,1.44,
1.41,1.44,1.43,1.40,1.39,1.42,1.41,1.37,1.38,1.41,
1.40,1.37,1.36,1.39,1.38,1.34,1.34,1.37,1.36,1.32,
1.33];
const hBot8 = [1.12,1.00,1.24,1.05,1.02,1.20,1.18,1.04,1.08,1.16,
1.15,1.04,0.85,1.02,1.12,1.07,1.08,1.13,1.11,1.06,
1.07,1.11,1.10,1.05,1.06,1.10,1.09,1.04,1.05,1.09,
1.08,1.04,1.04,1.08,1.07,1.02,1.03,1.06,1.05,1.01,
1.02,1.05,1.04,1.00,1.00,0.96,0.90,0.98,1.03,1.06,
1.05,0.98,0.92,1.00,1.04,1.07,1.06,1.02,1.03,1.06,
1.05,1.02,1.02,1.05,1.04,0.98,0.94,0.99,1.02,0.99,
1.00,1.03,1.03,0.99,0.99,1.02,1.01,0.97,0.97,1.00,
1.00,0.97,0.98,1.00,0.99,0.96,0.96,0.99,0.99,0.96,
0.97,0.99,1.03,0.96,0.95,0.90,0.85,0.88,0.77,0.88,
0.93,0.90,0.91,0.94,0.93,0.91,0.92,0.95,0.94,0.91,
0.93,0.90,0.92,0.94,0.90,0.84,0.72,0.82,0.88,0.86,
0.87,0.89,0.88,0.85,0.85,0.88,0.87,0.83,0.84,0.87,
0.86,0.83,0.82,0.85,0.84,0.80,0.80,0.83,0.82,0.79,
0.80];

// ---------- tick labels ----------
const yTicks = [0.5,1.0,1.5,2.0,2.5,3.0,3.5,4.0,4.5,5.0];
const hTicks = [1.50,1.55,1.60,1.65,1.70,1.75];
const kTicks = [2.00,2.05,2.10,2.15,2.20,2.25];
const jTicks = [1.18,1.20,1.22,1.24,1.26,1.28,1.30,1.32,1.34];

// ================= drawing =================
const FONT = 'DejaVu Sans, sans-serif';
const NAVY = '#000080', RED = '#ff0000', GREEN = '#006400';
const W = 928, H = 1568;
const px = v => v / W;
const py = v => 1 - v / H;

const panels = [
  {xa:'x',  ya:'y',  wave:hWave, series:[hTop1,hTop2,hTop3,hTop4,hTop5,hTop6,hTop7,hTop8], ids:hTopIds, color:NAVY,  title:'H BAND',
   xdom:[67,437], ydom:[32,689], range:[1.48,1.76], ticks:hTicks, labX:1.660, labY0:4.733, labStep:0.5},
  {xa:'x2', ya:'y2', wave:kWave, series:[kTop1,kTop2,kTop3,kTop4,kTop5,kTop6,kTop7,kTop8], ids:kTopIds, color:RED,   title:'K BAND',
   xdom:[551,921], ydom:[32,689], range:[1.98,2.26], ticks:kTicks, labX:2.161, labY0:4.53, labStep:0.4714},
  {xa:'x3', ya:'y3', wave:jWave, series:[jBot1,jBot2,jBot3,jBot4,jBot5,jBot6,jBot7,jBot8], ids:jBotIds, color:GREEN, title:'J BAND',
   xdom:[67,437], ydom:[855,1513], range:[1.18,1.34], ticks:jTicks, labX:1.2852, labY0:4.52, labStep:0.4693},
  {xa:'x4', ya:'y4', wave:hWave, series:[hBot1,hBot2,hBot3,hBot4,hBot5,hBot6,hBot7,hBot8], ids:hBotIds, color:NAVY,  title:'H BAND',
   xdom:[551,921], ydom:[855,1513], range:[1.48,1.76], ticks:hTicks, labX:1.661, labY0:4.735, labStep:0.5}
];

const traces = [];
const annotations = [];
const layout = {
  width: W, height: H,
  margin: {l:0, r:0, t:0, b:0},
  paper_bgcolor: '#fff', plot_bgcolor: '#fff',
  showlegend: false,
  font: {family: FONT, color: '#222'}
};

panels.forEach((p, idx) => {
  p.series.forEach(y => traces.push({
    x: p.wave, y: y, xaxis: p.xa, yaxis: p.ya, type: 'scatter', mode: 'lines',
    line: {color: p.color, width: 1}, hoverinfo: 'skip', showlegend: false
  }));
  const n = idx === 0 ? '' : String(idx + 1);
  const common = {
    showline: true, linecolor: '#222', linewidth: 1.2, mirror: 'ticks',
    ticks: 'inside', ticklen: 5, tickwidth: 1, tickcolor: '#222',
    showgrid: false, zeroline: false, fixedrange: true,
    tickfont: {family: FONT, size: 15, color: '#222'}
  };
  layout['xaxis' + n] = Object.assign({}, common, {
    domain: [px(p.xdom[0]), px(p.xdom[1])], anchor: p.ya,
    range: p.range, tickmode: 'array', tickvals: p.ticks,
    ticktext: p.ticks.map(v => v.toFixed(2)), ticklabelstandoff: 3,
    title: {text: 'Wavelength (microns)', font: {family: FONT, size: 18, color: '#222'}, standoff: 9}
  });
  layout['yaxis' + n] = Object.assign({}, common, {
    domain: [py(p.ydom[1]), py(p.ydom[0])], anchor: p.xa,
    range: [0.5, 5.0], tickmode: 'array', tickvals: yTicks,
    ticktext: yTicks.map(v => v.toFixed(1)),
    title: {text: 'Normalized flux + Offset', font: {family: FONT, size: 18, color: '#222'}, standoff: 8}
  });
  annotations.push({
    text: p.title, xref: 'paper', yref: 'paper',
    x: px((p.xdom[0] + p.xdom[1]) / 2), y: py(p.ydom[0] - 15),
    xanchor: 'center', yanchor: 'middle', showarrow: false,
    font: {family: FONT, size: 26, color: '#000'}
  });
  p.ids.forEach((id, i) => annotations.push({
    text: id, xref: p.xa, yref: p.ya, x: p.labX, y: p.labY0 - i * p.labStep,
    xanchor: 'left', yanchor: 'middle', showarrow: false,
    font: {family: FONT, size: 16, color: '#111'}
  }));
});
layout.annotations = annotations;

Plotly.newPlot('chart', traces, layout, {staticPlot: true, displayModeBar: false});
</script></body></html>
